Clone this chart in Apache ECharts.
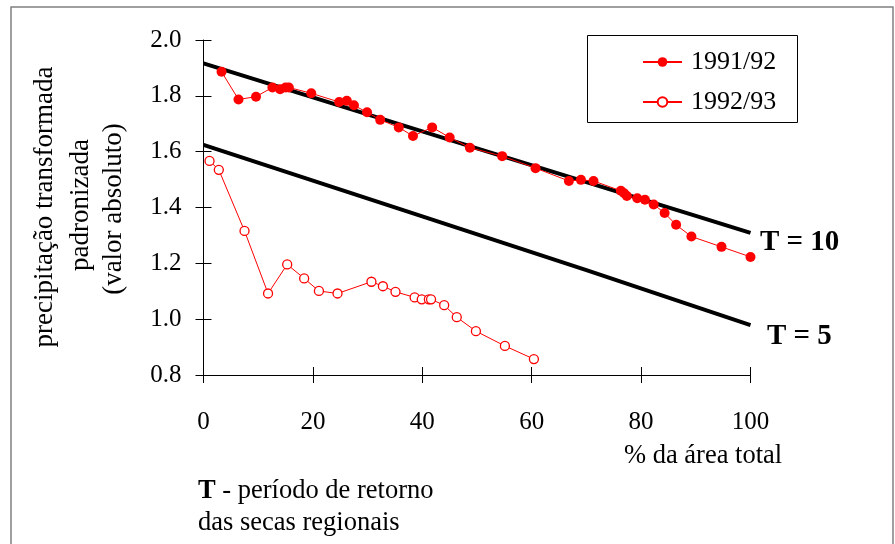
<!DOCTYPE html>
<html>
<head>
<meta charset="utf-8">
<script src="https://cdn.jsdelivr.net/npm/echarts@6/dist/echarts.min.js"></script>
<style>
html,body{margin:0;padding:0;background:#fff;}
#c{width:895px;height:544px;}
</style>
</head>
<body>
<div id="c"></div>
<script>
// ---- data ----
var s1x = [3.3, 6.4, 9.6, 12.6, 14.0, 15.0, 15.6, 19.7, 24.8, 26.2, 27.5, 29.9, 32.3, 35.7, 38.3, 41.8, 45.0, 48.7, 54.6, 60.7, 66.8, 69.0, 71.3, 76.3, 76.9, 77.4, 79.3, 80.7, 82.3, 84.3, 86.4, 89.2, 94.7, 100];
var s1y = [1.886, 1.787, 1.797, 1.830, 1.824, 1.830, 1.830, 1.809, 1.778, 1.782, 1.766, 1.741, 1.714, 1.687, 1.656, 1.687, 1.651, 1.614, 1.584, 1.541, 1.495, 1.499, 1.495, 1.460, 1.451, 1.441, 1.433, 1.428, 1.411, 1.380, 1.338, 1.296, 1.259, 1.223];
var s2x = [1.1, 2.8, 7.5, 11.8, 15.3, 18.4, 21.1, 24.5, 30.7, 32.8, 35.1, 38.6, 39.9, 41.2, 41.6, 44.0, 46.3, 49.8, 55.1, 60.4];
var s2y = [1.567, 1.535, 1.316, 1.092, 1.196, 1.146, 1.101, 1.092, 1.134, 1.118, 1.098, 1.078, 1.071, 1.071, 1.071, 1.050, 1.007, 0.957, 0.904, 0.857];
var t10x = [0, 50, 90, 100];
var t10y = [1.916, 1.612, 1.370, 1.309];
var t5x = [0, 40, 70, 100];
var t5y = [1.624, 1.368, 1.176, 0.979];
var seriesNames = ['1991/92', '1992/93'];
var xTicks = [0, 20, 40, 60, 80, 100];
var yTicks = [0.8, 1.0, 1.2, 1.4, 1.6, 1.8, 2.0];
var yTitle = ['precipitação transformada', 'padronizada', '(valor absoluto)'];
var xTitle = '% da área total';
var curveLabels = ['T = 10', 'T = 5'];

function zip(a, b) { return a.map(function (v, i) { return [v, b[i]]; }); }

var FONT = '"Liberation Serif", "Times New Roman", serif';
var chart = echarts.init(document.getElementById('c'), null, {renderer: 'canvas'});

var axisCommon = {
  axisLine: {show: true, lineStyle: {color: '#000', width: 1}},
  splitLine: {show: false}
};

var option = {
  animation: false,
  backgroundColor: '#fff',
  grid: {left: 203.5, right: 144.5, top: 40, bottom: 169, containLabel: false},
  xAxis: [
    Object.assign({
      type: 'value', min: xTicks[0], max: xTicks[xTicks.length - 1], interval: 20,
      axisTick: {show: true, inside: false, length: 8, lineStyle: {color: '#000'}},
      axisLabel: {margin: 35, fontFamily: FONT, fontSize: 25, color: '#000'}
    }, axisCommon),
    {
      type: 'value', min: 0, max: 100, interval: 20, position: 'bottom',
      axisLine: {show: false}, splitLine: {show: false}, axisLabel: {show: false},
      axisTick: {show: true, inside: true, length: 8, lineStyle: {color: '#000'}}
    }
  ],
  yAxis: [
    Object.assign({
      type: 'value', min: yTicks[0], max: yTicks[yTicks.length - 1], interval: 0.2,
      axisTick: {show: true, inside: false, length: 8, lineStyle: {color: '#000'}},
      axisLabel: {margin: 22, fontFamily: FONT, fontSize: 25, color: '#000',
        formatter: function (v) { return v.toFixed(1); }}
    }, axisCommon),
    {
      type: 'value', min: 0.8, max: 2.0, interval: 0.2, position: 'left',
      axisLine: {show: false}, splitLine: {show: false}, axisLabel: {show: false},
      axisTick: {show: true, inside: true, length: 8, lineStyle: {color: '#000'}}
    }
  ],
  legend: {
    data: seriesNames,
    orient: 'vertical',
    left: 642, top: 49, padding: 0,
    itemWidth: 39, itemHeight: 12,
    itemGap: 14,
    textStyle: {fontFamily: FONT, fontSize: 26, color: '#000', lineHeight: 26, padding: [0, 0, 0, 4]}
  },
  series: [
    {
      name: 'T10', type: 'line', data: zip(t10x, t10y), symbol: 'none', silent: true,
      lineStyle: {color: '#000', width: 4}, z: 1
    },
    {
      name: 'T5', type: 'line', data: zip(t5x, t5y), symbol: 'none', silent: true,
      lineStyle: {color: '#000', width: 4}, z: 1
    },
    {
      name: seriesNames[0], type: 'line', data: zip(s1x, s1y),
      symbol: 'circle', symbolSize: 10,
      itemStyle: {color: '#ff0000', borderWidth: 0},
      lineStyle: {color: '#ff0000', width: 1}, z: 3
    },
    {
      name: seriesNames[1], type: 'line', data: zip(s2x, s2y),
      symbol: 'circle', symbolSize: 9,
      itemStyle: {color: '#ffffff', borderColor: '#ff0000', borderWidth: 1.3},
      lineStyle: {color: '#ff0000', width: 1}, z: 3
    }
  ],
  graphic: [
    {type: 'rect', shape: {x: 11, y: 7, width: 882, height: 560}, silent: true, z: -10,
      style: {fill: 'none', stroke: '#808080', lineWidth: 1.5}},
    {type: 'rect', shape: {x: 587.5, y: 35.5, width: 210, height: 87}, silent: true, z: 0,
      style: {fill: '#fff', stroke: '#000', lineWidth: 1}},
    {type: 'text', x: 45, y: 207, rotation: Math.PI / 2,
      style: {text: yTitle[0], font: '27px ' + FONT, fill: '#000', textAlign: 'center', textVerticalAlign: 'middle'}},
    {type: 'text', x: 81, y: 205, rotation: Math.PI / 2,
      style: {text: yTitle[1], font: '27px ' + FONT, fill: '#000', textAlign: 'center', textVerticalAlign: 'middle'}},
    {type: 'text', x: 114, y: 209, rotation: Math.PI / 2,
      style: {text: yTitle[2], font: '27px ' + FONT, fill: '#000', textAlign: 'center', textVerticalAlign: 'middle'}},
    {type: 'text', x: 624, y: 456,
      style: {text: xTitle, font: '26.5px ' + FONT, fill: '#000', textAlign: 'left', textVerticalAlign: 'middle'}},
    {type: 'text', x: 760, y: 243,
      style: {text: curveLabels[0], font: 'bold 29px ' + FONT, fill: '#000', textAlign: 'left', textVerticalAlign: 'middle'}},
    {type: 'text', x: 767, y: 337,
      style: {text: curveLabels[1], font: 'bold 29px ' + FONT, fill: '#000', textAlign: 'left', textVerticalAlign: 'middle'}},
    {type: 'text', x: 198, y: 491,
      style: {
        text: '{b|T} - período de retorno',
        font: '26.5px ' + FONT, fill: '#000', textAlign: 'left', textVerticalAlign: 'middle',
        rich: {b: {fontWeight: 'bold', fontSize: 26.5, fontFamily: FONT, fill: '#000'}}
      }},
    {type: 'text', x: 198, y: 523,
      style: {text: 'das secas regionais', font: '26.5px ' + FONT, fill: '#000', textAlign: 'left', textVerticalAlign: 'middle'}}
  ]
};
chart.setOption(option);
</script>
</body>
</html>
